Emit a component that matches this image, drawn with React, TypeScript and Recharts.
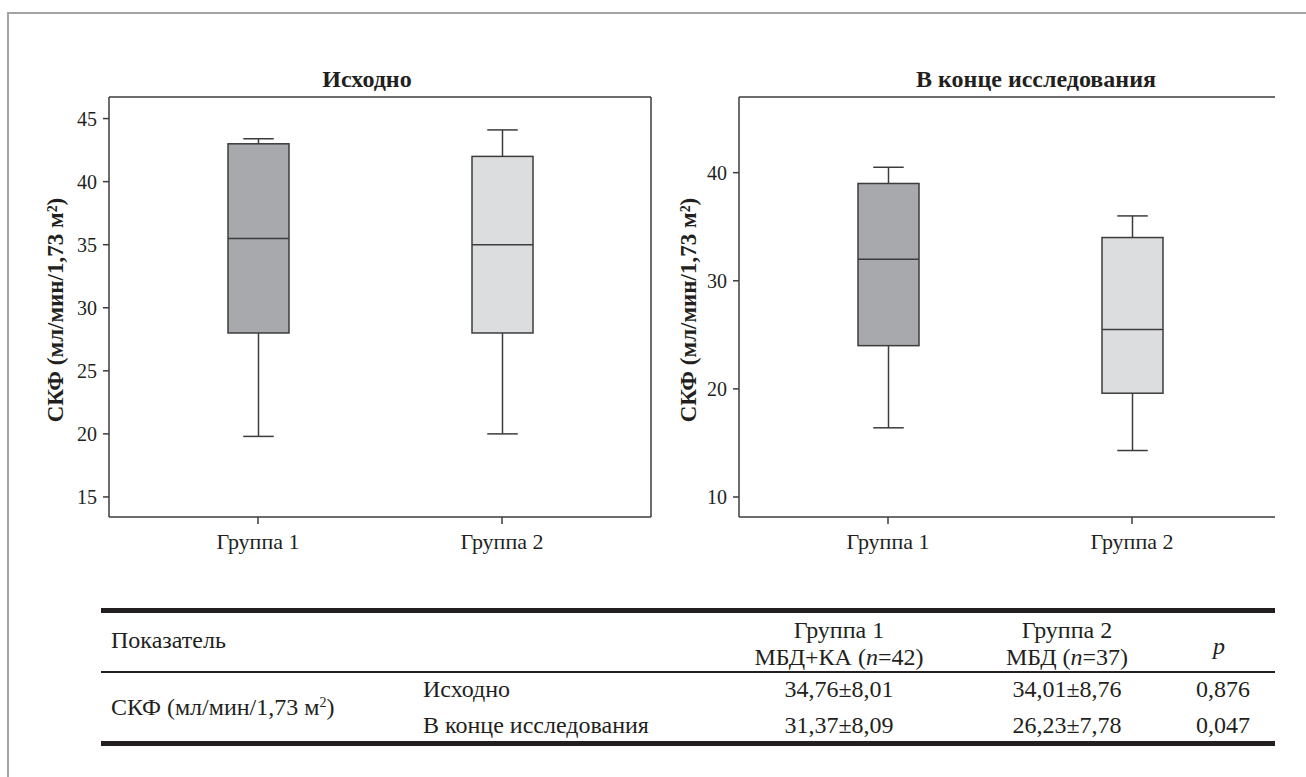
import React from "react";
import {
  ComposedChart,
  Bar,
  XAxis,
  YAxis,
  ReferenceLine,
} from "recharts";

const groups = ["Группа 1", "Группа 2"];
const boxFills = ["#a7a9ac", "#dcdddf"];

// Исходно
const baseMin = [19.8, 20.0];
const baseQ1 = [28.0, 28.0];
const baseMedian = [35.5, 35.0];
const baseQ3 = [43.0, 42.0];
const baseMax = [43.4, 44.1];
const baseTicks = [15, 20, 25, 30, 35, 40, 45];
const baseDomain: [number, number] = [13.41, 46.71];

// В конце исследования
const endMin = [16.4, 14.3];
const endQ1 = [24.0, 19.6];
const endMedian = [32.0, 25.5];
const endQ3 = [39.0, 34.0];
const endMax = [40.5, 36.0];
const endTicks = [10, 20, 30, 40];
const endDomain: [number, number] = [8.15, 47];

// table
const tableGroups = ["Группа 1", "Группа 2"];
const tableArms = ["МБД+КА", "МБД"];
const tableN = [42, 37];
const rowLabels = ["Исходно", "В конце исследования"];
const group1Values = ["34,76±8,01", "31,37±8,09"];
const group2Values = ["34,01±8,76", "26,23±7,78"];
const pValues = ["0,876", "0,047"];

const INK = "#231f20";
const LINE = "#3c3c3c";
const FONT = "Liberation Serif, DejaVu Serif, Times New Roman, Times, serif";
const AXIS_LABEL = "СКФ (мл/мин/1,73 м²)";

const buildRows = (mins: number[], q1s: number[], meds: number[], q3s: number[], maxs: number[]) =>
  groups.map((g, i) => ({
    group: g,
    min: mins[i],
    q1: q1s[i],
    median: meds[i],
    q3: q3s[i],
    max: maxs[i],
    fill: boxFills[i],
  }));

const baseRows = buildRows(baseMin, baseQ1, baseMedian, baseQ3, baseMax);
const endRows = buildRows(endMin, endQ1, endMedian, endQ3, endMax);

// whole box drawn from the [min, max] range bar the library positions
const BoxShape = (props: any) => {
  const { x, y, width, height, payload } = props;
  const { min, q1, median, q3, max, fill } = payload;
  const top = Math.min(y, y + height);
  const h = Math.abs(height);
  const toY = (v: number) => top + ((max - v) / (max - min)) * h;
  const cx = x + width / 2;
  const cap = width / 4;
  return (
    <g stroke={LINE} strokeWidth={1.5}>
      <line x1={cx} x2={cx} y1={toY(max)} y2={toY(q3)} />
      <line x1={cx} x2={cx} y1={toY(q1)} y2={toY(min)} />
      <line x1={cx - cap} x2={cx + cap} y1={toY(max)} y2={toY(max)} />
      <line x1={cx - cap} x2={cx + cap} y1={toY(min)} y2={toY(min)} />
      <rect x={x} y={toY(q3)} width={width} height={toY(q1) - toY(q3)} fill={fill} />
      <line x1={x} x2={x + width} y1={toY(median)} y2={toY(median)} />
    </g>
  );
};

const yLabel = (offset: number) => (p: any) => {
  const vb = p.viewBox;
  const cx = vb.x + offset;
  const cy = vb.y + vb.height / 2 + 3;
  return (
    <text
      x={cx}
      y={cy}
      transform={`rotate(-90 ${cx} ${cy})`}
      textAnchor="middle"
      dominantBaseline="central"
      style={{ fontFamily: FONT }}
      fontWeight="bold"
      fontSize={23}
      fill={INK}
    >
      {AXIS_LABEL}
    </text>
  );
};

const yTickStyle = { fontFamily: FONT, fontSize: 20, fill: INK };
const xTickStyle = { fontFamily: FONT, fontSize: 22, fill: INK };

interface BoxChartProps {
  rows: any[];
  domain: [number, number];
  ticks: number[];
  width: number;
  rightMargin: number;
  padRight: number;
  labelOffset: number;
  rightBorder: boolean;
}

const BoxChart: React.FC<BoxChartProps> = ({
  rows,
  domain,
  ticks,
  width,
  rightMargin,
  padRight,
  labelOffset,
  rightBorder,
}) => (
  <ComposedChart
    width={width}
    height={580}
    data={rows}
    margin={{ top: 97, right: rightMargin, bottom: 23, left: 0 }}
    style={{ fontFamily: FONT }}
  >
    <XAxis
      dataKey="group"
      padding={{ left: 27, right: padRight }}
      axisLine={{ stroke: LINE, strokeWidth: 1.5 }}
      tickLine={{ stroke: LINE, strokeWidth: 1.5 }}
      tickSize={7}
      tickMargin={9}
      height={40}
      tick={xTickStyle}
    />
    <YAxis
      type="number"
      domain={domain}
      ticks={ticks}
      allowDataOverflow
      width={109}
      axisLine={{ stroke: LINE, strokeWidth: 1.5 }}
      tickLine={{ stroke: LINE, strokeWidth: 1.5 }}
      tickSize={6}
      tickMargin={6}
      tick={yTickStyle}
      label={yLabel(labelOffset)}
    />
    {rightBorder && (
      <YAxis
        yAxisId="frame"
        orientation="right"
        type="number"
        domain={domain}
        width={1}
        tick={false}
        tickLine={false}
        axisLine={{ stroke: LINE, strokeWidth: 1.5 }}
      />
    )}
    <ReferenceLine y={domain[1]} stroke={LINE} strokeWidth={1.5} />
    <Bar
      dataKey={(d: any) => [d.min, d.max]}
      barSize={61}
      shape={BoxShape}
      isAnimationActive={false}
    />
  </ComposedChart>
);

const abs = (left: number, top: number, extra: React.CSSProperties = {}): React.CSSProperties => ({
  position: "absolute",
  left,
  top,
  ...extra,
});

const centered = (cx: number, cy: number, extra: React.CSSProperties = {}): React.CSSProperties => ({
  position: "absolute",
  left: cx - 150,
  width: 300,
  top: cy - 13,
  lineHeight: "26px",
  textAlign: "center",
  whiteSpace: "nowrap",
  ...extra,
});

const leftText = (x: number, cy: number): React.CSSProperties => ({
  position: "absolute",
  left: x,
  top: cy - 13,
  lineHeight: "26px",
  whiteSpace: "nowrap",
});

const colCenters = [839, 1067];
const rowCenters = [689, 725];

export default function App() {
  return (
    <div
      style={{
        position: "absolute",
        left: 0,
        top: 0,
        width: 1306,
        height: 777,
        overflow: "hidden",
        background: "#fff",
        fontFamily: FONT,
        color: INK,
      }}
    >
      {/* outer frame */}
      <div
        style={abs(7, 12, {
          width: 1306,
          height: 780,
          borderLeft: "2px solid #a3a3a3",
          borderTop: "2px solid #a3a3a3",
        })}
      />

      {/* titles */}
      <div style={centered(367, 79, { fontWeight: "bold", fontSize: 24 })}>Исходно</div>
      <div style={centered(1036, 79, { fontWeight: "bold", fontSize: 24 })}>
        В конце исследования
      </div>

      <div style={abs(0, 0)}>
        <BoxChart
          rows={baseRows}
          domain={baseDomain}
          ticks={baseTicks}
          width={700}
          rightMargin={48}
          padRight={27}
          labelOffset={55}
          rightBorder
        />
      </div>
      <div style={abs(630, 0)}>
        <BoxChart
          rows={endRows}
          domain={endDomain}
          ticks={endTicks}
          width={676}
          rightMargin={31}
          padRight={21}
          labelOffset={58}
          rightBorder={false}
        />
      </div>

      {/* table */}
      <div style={{ position: "absolute", left: 0, top: 0, fontSize: 24 }}>
        <div style={abs(101, 608, { width: 1174, height: 5, background: "#231f20" })} />
        <div style={leftText(111, 640)}>Показатель</div>
        {tableGroups.map((g, i) => (
          <React.Fragment key={g}>
            <div style={centered(colCenters[i], 630)}>{g}</div>
            <div style={centered(colCenters[i], 657)}>
              {tableArms[i]} (<i>n</i>={tableN[i]})
            </div>
          </React.Fragment>
        ))}
        <div style={centered(1219, 646, { fontStyle: "italic" })}>p</div>
        <div style={abs(101, 671, { width: 1174, height: 1.5, background: "#231f20" })} />
        <div style={leftText(111, 707)}>
          СКФ (мл/мин/1,73 м<sup style={{ fontSize: 14, verticalAlign: "8px", lineHeight: 0 }}>2</sup>)
        </div>
        {rowLabels.map((r, i) => (
          <React.Fragment key={r}>
            <div style={leftText(423, rowCenters[i])}>{r}</div>
            <div style={centered(colCenters[0], rowCenters[i])}>{group1Values[i]}</div>
            <div style={centered(colCenters[1], rowCenters[i])}>{group2Values[i]}</div>
            <div style={centered(1223, rowCenters[i])}>{pValues[i]}</div>
          </React.Fragment>
        ))}
        <div style={abs(101, 741, { width: 1174, height: 5, background: "#231f20" })} />
      </div>
    </div>
  );
}
